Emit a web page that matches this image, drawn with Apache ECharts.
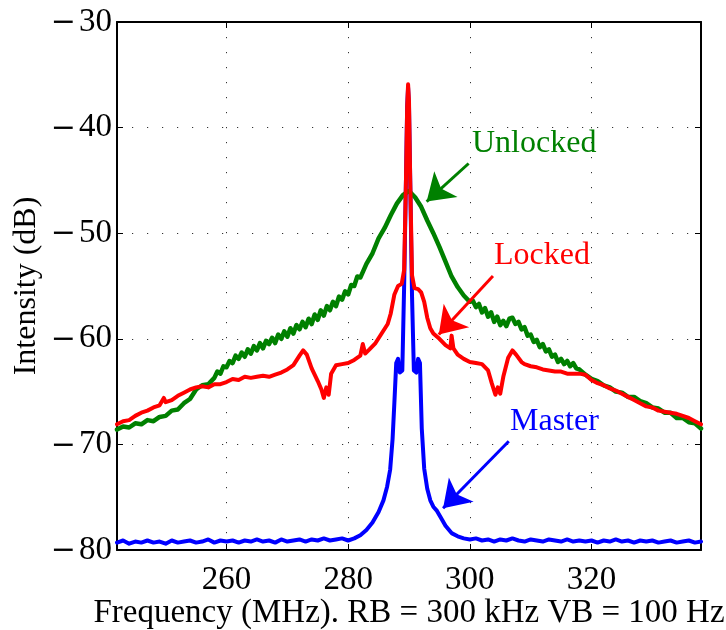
<!DOCTYPE html>
<html>
<head>
<meta charset="utf-8">
<script src="https://cdn.jsdelivr.net/npm/echarts@6/dist/echarts.min.js"></script>
<style>
  html, body { margin: 0; padding: 0; background: #fff; }
  #chart { width: 726px; height: 630px; }
</style>
</head>
<body>
<div id="chart"></div>
<script>
// Beat-note spectra around 290 MHz: free-running (unlocked), injection-locked, and master laser.
const freqTicks = [260, 280, 300, 320];
const dbTicks = [-80, -70, -60, -50, -40, -30];

const unlockedFreq = [
  242, 243, 244, 245, 246, 247, 248, 249, 250, 251, 252, 253, 254, 255, 256, 257,
  258, 258.5, 259, 259.5, 260, 260.5, 261, 261.5, 262, 262.5, 263, 263.5, 264, 264.5,
  265, 265.5, 266, 266.5, 267, 267.5, 268, 268.5, 269, 269.5, 270, 270.5, 271, 271.5,
  272, 272.5, 273, 273.5, 274, 274.5, 275, 275.5, 276, 276.5, 277, 277.5, 278, 278.5,
  279, 279.5, 280, 280.5, 281, 281.5, 282,
  283, 284, 285, 286, 287, 288, 289, 290, 291, 292, 293, 294, 295, 296, 297, 298, 299,
  300, 300.5, 301, 301.5, 302, 302.5, 303, 303.5, 304, 304.5, 305, 305.5, 306, 306.5,
  307, 307.5, 308, 308.5, 309, 309.5, 310, 310.5, 311, 311.5, 312, 312.5, 313, 313.5,
  314, 314.5, 315, 315.5, 316, 316.5, 317, 317.5, 318,
  319, 320, 321, 322, 323, 324, 325, 326, 327, 328, 329, 330, 331, 332, 333, 334, 335,
  336, 337, 338
];
const unlockedDb = [
  -68.6, -68.3, -68.4, -68.0, -68.1, -67.7, -67.8, -67.4, -67.3, -66.8, -66.7, -66.1, -65.7, -64.8, -64.4, -64.3,
  -63.7, -63.1, -63.3, -62.6, -62.7, -62.1, -62.3, -61.6, -61.9, -61.3, -61.7, -61.0, -61.4, -60.7,
  -61.1, -60.4, -60.9, -60.2, -60.5, -59.9, -60.4, -59.6, -60.0, -59.3, -59.8, -59.0, -59.5, -58.7,
  -59.1, -58.4, -58.9, -58.1, -58.6, -57.7, -58.2, -57.3, -57.8, -56.9, -57.3, -56.5, -56.9, -56.0,
  -56.3, -55.5, -55.8, -54.9, -55.0, -54.1, -54.2,
  -52.9, -51.9, -50.5, -49.5, -48.3, -47.2, -46.4, -46.0, -46.6, -47.5, -48.8, -50.0, -51.3, -52.7, -54.1, -55.1, -55.9,
  -56.5, -56.4, -57.0, -56.7, -57.5, -57.1, -57.9, -57.5, -58.4, -57.9, -58.7, -58.3, -58.8, -58.1,
  -58.0, -58.6, -58.4, -59.1, -58.9, -59.7, -59.6, -60.3, -60.1, -60.8, -60.5, -61.2, -61.0, -61.7,
  -61.5, -62.2, -61.9, -62.4, -62.1, -62.6, -62.3, -62.8, -62.9,
  -63.4, -63.8, -64.0, -64.4, -64.6, -65.0, -65.1, -65.5, -65.5, -65.9, -66.1, -66.5, -66.6, -67.0, -67.0, -67.5, -67.5,
  -67.9, -68.0, -68.5
];

const lockedFreq = [
  242, 243, 244, 245, 246, 247, 248, 249, 249.7, 250, 251, 252, 253, 254, 255, 256, 257, 258, 259,
  260, 261, 262, 263, 264, 265, 266, 267, 268, 269, 270, 271, 272, 272.6, 273.2, 274, 275, 275.6,
  276, 276.4, 276.8, 277.2, 278, 279, 280, 281, 282, 282.4, 282.8, 283.5, 284.5, 285.5, 286.5,
  287, 287.6, 288.2, 288.8, 289.2, 289.5, 289.7, 289.85, 290.0, 290.2, 290.5, 290.9, 291.5, 292,
  292.5, 293, 293.5, 294, 295, 296, 296.8, 297.0, 297.3, 298, 299, 300, 301, 302, 303, 303.6,
  304.2, 304.6, 305, 305.5, 306.3, 307, 307.6, 308.5, 309, 310, 311, 312, 313, 314, 315, 316,
  317, 318, 319, 320, 321, 322, 323, 324, 325, 326, 327, 328, 329, 330, 331, 332, 333, 334,
  335, 336, 337, 338
];
const lockedDb = [
  -68.1, -67.8, -67.7, -67.3, -67.0, -66.8, -66.5, -66.3, -65.6, -66.0, -65.8, -65.4, -65.1, -64.8, -64.6, -64.5, -64.6, -64.3, -64.3,
  -64.1, -63.8, -63.9, -63.6, -63.7, -63.6, -63.5, -63.6, -63.4, -63.2, -62.9, -62.5, -61.6, -61.1, -61.5, -62.8, -64.0, -64.8,
  -65.6, -64.6, -65.3, -63.3, -62.5, -62.4, -62.3, -62.0, -61.6, -60.5, -61.4, -61.0, -60.4, -59.5, -58.6,
  -57.6, -55.8, -55.0, -54.8, -53.5, -45.0, -38.0, -35.9, -37.5, -45.0, -54.0, -55.2, -55.3, -55.6,
  -56.5, -58.0, -59.0, -59.5, -60.0, -60.6, -60.9, -59.7, -60.9, -61.5, -61.9, -62.2, -62.3, -62.4, -63.0, -64.2,
  -65.3, -64.6, -65.2, -63.6, -61.8, -61.1, -61.5, -62.2, -62.4, -62.6, -62.7, -62.9, -63.0, -63.1, -63.1, -63.3,
  -63.3, -63.3, -63.4, -63.9, -64.2, -64.4, -64.7, -64.9, -65.2, -65.5, -65.8, -66.1, -66.4, -66.5, -66.8, -66.9, -67.0, -67.1,
  -67.3, -67.5, -67.8, -68.1
];

const masterFreq = [
  242, 243, 244, 245, 246, 247, 248, 249, 250, 251, 252, 253, 254, 255, 256, 257, 258, 259,
  260, 261, 262, 263, 264, 265, 266, 267, 268, 269, 270, 271, 272, 273, 274, 275, 276, 277,
  278, 279, 280, 281, 282, 283, 284, 285, 285.8, 286.4, 286.9, 287.3, 287.6, 287.9, 288.2,
  288.5, 288.9, 289.2, 289.5, 289.7, 289.85, 290.0, 290.2, 290.5, 290.8, 291.2, 291.5, 291.8,
  292.1, 292.5, 293, 293.5, 294, 294.6, 295.2, 296, 297, 298, 299, 300, 301, 302, 303, 304,
  305, 306, 307, 308, 309, 310, 311, 312, 313, 314, 315, 316, 317, 318, 319, 320, 321, 322,
  323, 324, 325, 326, 327, 328, 329, 330, 331, 332, 333, 334, 335, 336, 337, 338
];
const masterDb = [
  -79.3, -79.1, -79.4, -79.2, -79.3, -79.1, -79.3, -79.2, -79.4, -79.1, -79.3, -79.2, -79.1, -79.3, -79.2, -79.0, -79.3, -79.1,
  -79.2, -79.1, -79.3, -79.1, -79.2, -79.0, -79.2, -79.1, -79.3, -79.0, -79.2, -79.1, -79.0, -79.2, -79.0, -79.1, -78.9, -79.1,
  -79.0, -78.9, -79.1, -78.9, -78.6, -78.1, -77.4, -76.4, -75.3, -74.0, -72.4, -69.5, -66.0, -62.3, -61.9,
  -63.2, -63.0, -55.0, -45.0, -38.0, -36.2, -38.0, -45.0, -56.0, -63.0, -63.2, -61.9, -62.3,
  -68.5, -72.3, -74.2, -75.3, -75.9, -76.3, -76.9, -77.7, -78.4, -78.7, -78.9, -79.0, -78.9, -79.1, -79.0, -79.2,
  -79.0, -79.1, -78.9, -79.1, -79.2, -79.0, -79.1, -79.2, -79.0, -79.1, -79.2, -79.0, -79.2, -79.1, -79.2, -79.1, -79.3, -79.1,
  -79.2, -79.0, -79.2, -79.1, -79.3, -79.1, -79.2, -79.1, -79.3, -79.2, -79.1, -79.3, -79.2, -79.1, -79.3, -79.2
];

// Annotation arrows (tail -> tip) in data units
const unlockedArrow = [[299.8, -43.4], [292.9, -47.0]];
const lockedArrow = [[303.8, -54.05], [294.9, -59.6]];
const masterArrow = [[306.4, -69.7], [295.6, -76.05]];

const SERIF = '"Liberation Serif", "Times New Roman", Times, serif';
const GREEN = '#008000', RED = '#ff0000', BLUE = '#0000ff';

function pairs(xs, ys) { return xs.map((x, i) => [x, ys[i]]); }
// Negative tick values get a long typographic minus sign
function minusLabel(v) { return v < 0 ? '{m|\u2212}{d|' + Math.abs(v) + '}' : '{d|' + v + '}'; }

function arrowLine(arrow, color) {
  return {
    silent: true,
    animation: false,
    symbol: ['none', 'arrow'],
    symbolSize: 26,
    label: { show: false },
    lineStyle: { color: color, width: 3, type: 'solid', opacity: 1 },
    itemStyle: { color: color },
    emphasis: { disabled: true },
    data: [[{ coord: arrow[0] }, { coord: arrow[1] }]]
  };
}

const chart = echarts.init(document.getElementById('chart'), null, { renderer: 'canvas' });

const gridDots = { show: true, lineStyle: { color: '#333', width: 1, type: [1.2, 13.8] } };
const axisLineStyle = { show: true, onZero: false, lineStyle: { color: '#000', width: 2 } };

chart.setOption({
  animation: false,
  backgroundColor: '#fff',
  grid: { left: 117, right: 25, top: 22, bottom: 80, containLabel: false, outerBoundsMode: 'none' },
  xAxis: [
    {
      type: 'value', min: 242, max: 338, minInterval: 20, maxInterval: 20,
      position: 'bottom',
      axisLine: axisLineStyle,
      axisTick: { show: true, inside: true, length: 6, lineStyle: { color: '#000', width: 1 } },
      axisLabel: {
        show: true, margin: 14, color: '#000', fontFamily: SERIF, fontSize: 33,
        showMinLabel: false, showMaxLabel: false,
        formatter: v => freqTicks.includes(v) ? String(v) : ''
      },
      splitLine: gridDots,
      name: 'Frequency (MHz). RB = 300 kHz VB = 100 Hz',
      nameLocation: 'middle', nameGap: 47, nameMoveOverlap: false,
      nameTextStyle: { color: '#000', fontFamily: SERIF, fontSize: 33 }
    },
    {
      type: 'value', min: 242, max: 338, minInterval: 20, maxInterval: 20,
      position: 'top',
      axisLine: axisLineStyle,
      axisTick: { show: true, inside: true, length: 6, lineStyle: { color: '#000', width: 1 } },
      axisLabel: { show: false },
      splitLine: { show: false }
    }
  ],
  yAxis: [
    {
      type: 'value', min: dbTicks[0], max: dbTicks[dbTicks.length - 1], interval: 10,
      position: 'left',
      axisLine: axisLineStyle,
      axisTick: { show: true, inside: true, length: 6, lineStyle: { color: '#000', width: 1 } },
      axisLabel: {
        show: true, margin: 5, color: '#000', formatter: minusLabel,
        rich: {
          m: { fontFamily: '"DejaVu Serif", serif', fontSize: 30, color: '#000', padding: [3, 3, 0, 0] },
          d: { fontFamily: SERIF, fontSize: 33, color: '#000' }
        }
      },
      splitLine: gridDots,
      name: 'Intensity (dB)',
      nameLocation: 'middle', nameGap: 74, nameRotate: 90, nameMoveOverlap: false,
      nameTextStyle: { color: '#000', fontFamily: SERIF, fontSize: 32 }
    },
    {
      type: 'value', min: dbTicks[0], max: dbTicks[dbTicks.length - 1], interval: 10,
      position: 'right',
      axisLine: axisLineStyle,
      axisTick: { show: true, inside: true, length: 6, lineStyle: { color: '#000', width: 1 } },
      axisLabel: { show: false },
      splitLine: { show: false }
    }
  ],
  series: [
    {
      name: 'Master', type: 'line', xAxisIndex: 0, yAxisIndex: 0,
      data: pairs(masterFreq, masterDb),
      showSymbol: false, clip: true, z: 2,
      lineStyle: { color: BLUE, width: 4, join: 'round', cap: 'round' },
      markLine: arrowLine(masterArrow, BLUE)
    },
    {
      name: 'Unlocked', type: 'line', xAxisIndex: 0, yAxisIndex: 0,
      data: pairs(unlockedFreq, unlockedDb),
      showSymbol: false, clip: true, z: 3,
      lineStyle: { color: GREEN, width: 4.5, join: 'round', cap: 'round' },
      markLine: arrowLine(unlockedArrow, GREEN)
    },
    {
      name: 'Locked', type: 'line', xAxisIndex: 0, yAxisIndex: 0,
      data: pairs(lockedFreq, lockedDb),
      showSymbol: false, clip: true, z: 4,
      lineStyle: { color: RED, width: 4, join: 'round', cap: 'round' },
      markLine: arrowLine(lockedArrow, RED)
    }
  ],
  graphic: [
    { type: 'text', style: { x: 472, y: 144, text: 'Unlocked', font: '32px ' + SERIF, fill: GREEN, verticalAlign: 'middle' }, z: 10 },
    { type: 'text', style: { x: 494, y: 256, text: 'Locked', font: '32px ' + SERIF, fill: RED, verticalAlign: 'middle' }, z: 10 },
    { type: 'text', style: { x: 510, y: 422, text: 'Master', font: '32px ' + SERIF, fill: BLUE, verticalAlign: 'middle' }, z: 10 }
  ]
});
</script>
</body>
</html>
